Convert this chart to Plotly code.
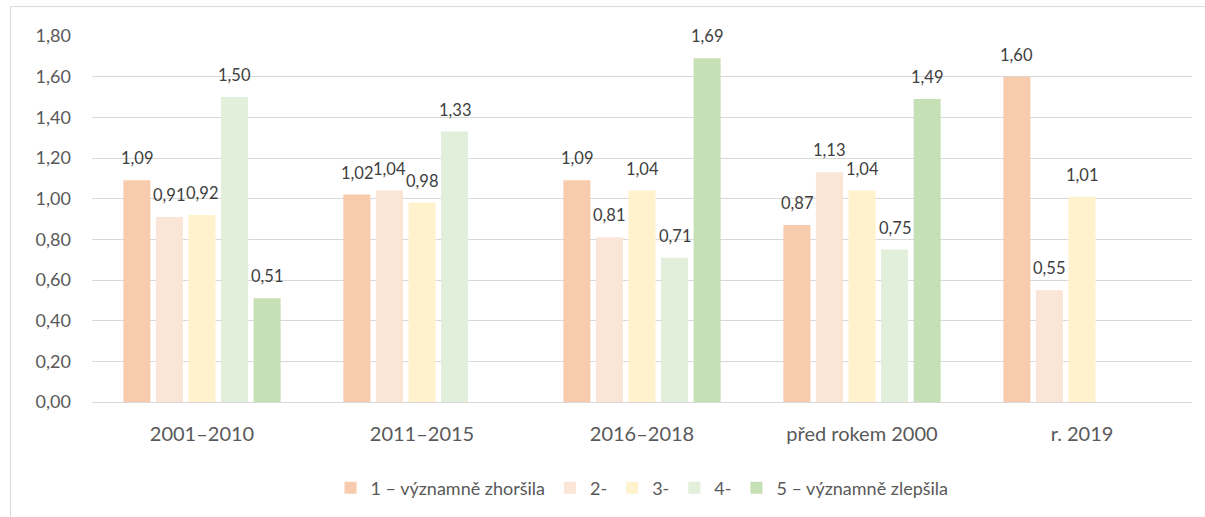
import plotly.graph_objects as go

categories = ["2001–2010", "2011–2015", "2016–2018", "před rokem 2000", "r. 2019"]
series_names = ["1 – významně zhoršila", "2-", "3-", "4-", "5 – významně zlepšila"]
s1 = [1.09, 1.02, 1.09, 0.87, 1.60]
s2 = [0.91, 1.04, 0.81, 1.13, 0.55]
s3 = [0.92, 0.98, 1.04, 1.04, 1.01]
s4 = [1.50, 1.33, 0.71, 0.75, None]
s5 = [0.51, None, 1.69, 1.49, None]
colors = ["#F8CBAD", "#FBE5D6", "#FFF2CC", "#E2EFDA", "#C5E0B4"]

all_series = [s1, s2, s3, s4, s5]
FONT = "Lato, 'Open Sans', sans-serif"
BARGAP = 0.26
GROUPGAP = 0.17

W, H = 1205, 517
L, R, T, B = 92, 13, 36, 114
PW, PH = W - L - R, H - T - B

fig = go.Figure()
for name, vals, col in zip(series_names, all_series, colors):
    fig.add_trace(go.Bar(x=categories, y=vals, name=name, marker_color=col,
                         marker_line_width=0, hoverinfo="skip"))

# data labels placed above the bars
n = len(all_series)
slot = (1 - BARGAP) / n
annotations = []
for i, vals in enumerate(all_series):
    off = -(1 - BARGAP) / 2 + slot * (i + 0.5)
    for ci, v in enumerate(vals):
        if v is None:
            continue
        annotations.append(dict(
            x=ci + off, y=v, xref="x", yref="y",
            text=f"{v:.2f}".replace(".", ","), showarrow=False,
            yanchor="bottom", yshift=10,
            font=dict(family=FONT, size=16.5, color="#404040")))

fig.update_layout(
    width=W, height=H,
    margin=dict(l=L, r=R, t=T, b=B),
    paper_bgcolor="white", plot_bgcolor="white",
    barmode="group", bargap=BARGAP, bargroupgap=GROUPGAP,
    separators=", ",
    font=dict(family=FONT, color="#595959"),
    annotations=annotations,
    showlegend=True,
    legend=dict(orientation="h", x=0.5, xanchor="center",
                y=(PH + T - 488) / PH, yanchor="middle",
                font=dict(family=FONT, size=18, color="#595959"),
                itemwidth=30, traceorder="normal"),
    shapes=[dict(type="rect", xref="paper", yref="paper",
                 x0=(10.5 - L) / PW, x1=(1225 - L) / PW,
                 y0=(PH + T - 540) / PH, y1=(PH + T - 6.5) / PH,
                 line=dict(color="#D9D9D9", width=1), fillcolor="rgba(0,0,0,0)",
                 layer="below")],
)
fig.update_yaxes(range=[0, 1.8], dtick=0.2, tickformat=".2f",
                 showgrid=True, gridcolor="#D9D9D9", gridwidth=1,
                 zeroline=False, showline=False, ticks="", ticklabelstandoff=20,
                 tickfont=dict(family=FONT, size=18, color="#595959"))
fig.update_xaxes(showline=True, linecolor="#D9D9D9", linewidth=1, ticks="",
                 ticklabelstandoff=14,
                 tickfont=dict(family=FONT, size=20, color="#595959"))

fig.write_html("out.html", config={"displayModeBar": False},
               post_script="document.body.style.margin='0';document.body.style.padding='0';")
